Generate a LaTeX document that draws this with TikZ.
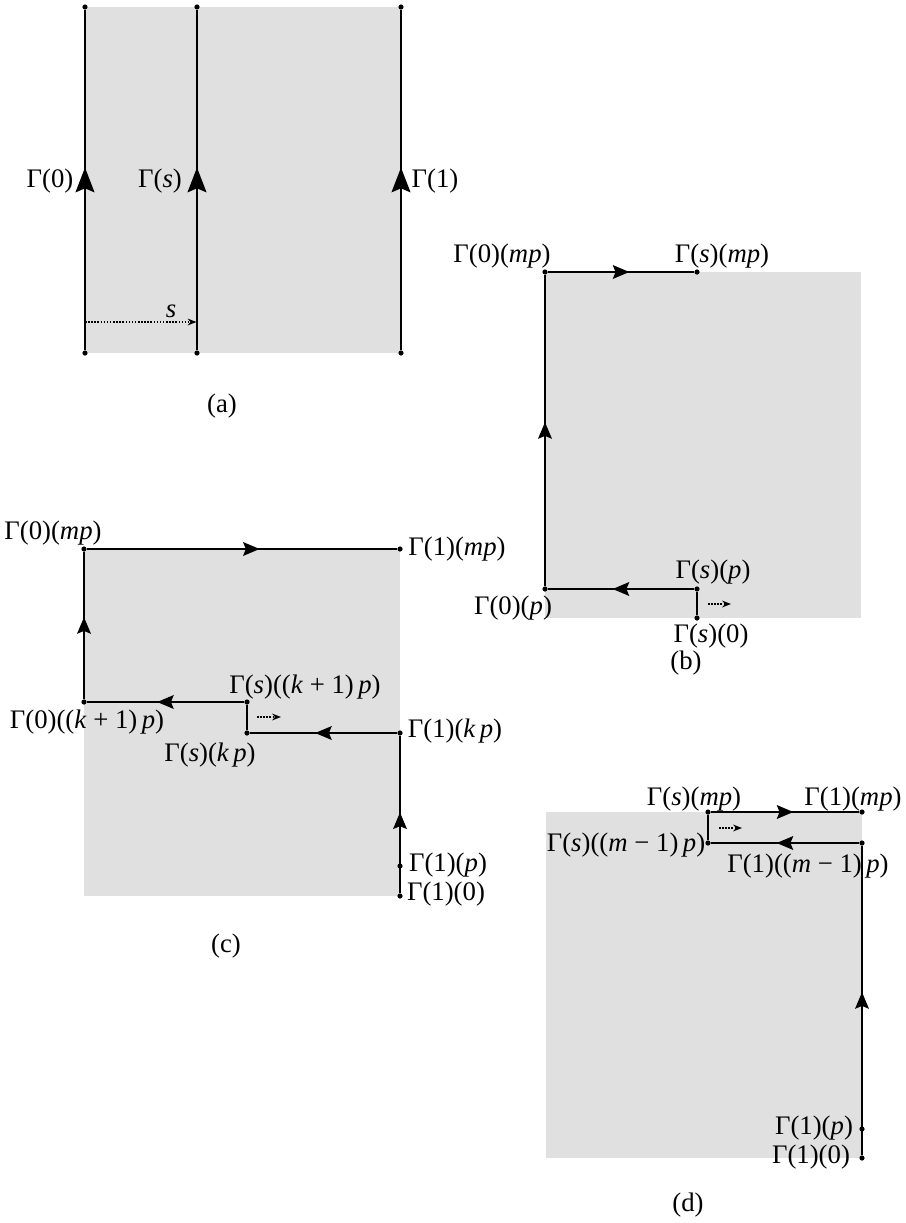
\documentclass[tikz,border=0pt]{standalone}
\usepackage{fontspec}
\setmainfont{Liberation Serif}
\usetikzlibrary{arrows.meta,decorations.markings}
\definecolor{shadegray}{HTML}{E0E0E0}
\tikzset{
  vtx/.style={circle,fill=black,inner sep=0pt,minimum size=2pt},
  lab/.style={inner sep=0pt,font=\fontsize{10.3}{12}\selectfont},
  seg/.style={line width=0.8pt},
  bigmid/.style={postaction={decorate,decoration={markings,mark=at position #1 with {\fill (4.8pt,0pt) -- (-4.8pt,3.7pt) -- (-3.2pt,0pt) -- (-4.8pt,-3.7pt) -- cycle;}}}},
  bigmid/.default=0.5,
  midarr/.style={postaction={decorate,decoration={markings,mark=at position #1 with {\fill (3.2pt,0pt) -- (-3.2pt,2.7pt) -- (-2.1pt,0pt) -- (-3.2pt,-2.7pt) -- cycle;}}}},
  midarr/.default=0.5,
  dotarr/.style={line width=0.6pt,dash pattern=on 0.6pt off 0.6pt,-{Stealth[length=3.4pt,width=2.6pt]}},
  shadebox/.style={fill=shadegray,draw=none}
}
\begin{document}
\begin{tikzpicture}[x=0.385pt,y=-0.385pt]
\useasboundingbox (0,0) rectangle (906,1223);
% ---------------- (a)
\fill[shadebox] (85,7) rectangle (401,353);
\node[vtx] (a0t) at (85,7) {};
\node[vtx] (a0b) at (85,353) {};
\node[vtx] (ast) at (197,7) {};
\node[vtx] (asb) at (197,353) {};
\node[vtx] (a1t) at (401,7) {};
\node[vtx] (a1b) at (401,353) {};
\draw[seg,bigmid] (a0b) -- (a0t);
\draw[seg,bigmid] (asb) -- (ast);
\draw[seg,bigmid] (a1b) -- (a1t);
\coordinate (ad1) at (85,322);
\coordinate (ad2) at (196.5,322);
\draw[dotarr] (ad1) -- (ad2);
\node[lab] (la0) at (50,181) {Γ(0)};
\node[lab] (las) at (160,181) {Γ(\textit{s})};
\node[lab] (la1) at (435,181) {Γ(1)};
\node[lab] (lass) at (171,311) {\textit{s}};
\node[lab] (capa) at (222,406) {(a)};
% ---------------- (b)
\fill[shadebox] (545,272) rectangle (861,618);
\node[vtx] (b0m) at (545,272) {};
\node[vtx] (bsm) at (697,272) {};
\node[vtx] (b0p) at (545,589) {};
\node[vtx] (bsp) at (697,589) {};
\node[vtx] (bs0) at (697,618) {};
\draw[seg] (bs0) -- (bsp);
\draw[seg,midarr] (bsp) -- (b0p);
\draw[seg,midarr] (b0p) -- (b0m);
\draw[seg,midarr] (b0m) -- (bsm);
\coordinate (bd1) at (708,604);
\coordinate (bd2) at (731,604);
\draw[dotarr] (bd1) -- (bd2);
\node[lab] (lb0m) at (502,256) {Γ(0)(\textit{mp})};
\node[lab] (lbsm) at (722,256) {Γ(\textit{s})(\textit{mp})};
\node[lab] (lbsp) at (713,572) {Γ(\textit{s})(\textit{p})};
\node[lab] (lb0p) at (513,608) {Γ(0)(\textit{p})};
\node[lab] (lbs0) at (711,636) {Γ(\textit{s})(0)};
\node[lab] (capb) at (686,663) {(b)};
% ---------------- (c)
\fill[shadebox] (84,549) rectangle (400,896);
\node[vtx] (c0m) at (84,549) {};
\node[vtx] (c1m) at (400,549) {};
\node[vtx] (c0k) at (84,702) {};
\node[vtx] (csk1) at (247,702) {};
\node[vtx] (csk) at (247,733) {};
\node[vtx] (c1k) at (400,733) {};
\node[vtx] (c1p) at (400,866) {};
\node[vtx] (c10) at (400,896) {};
\draw[seg,midarr=0.46] (c10) -- (c1k);
\draw[seg,midarr] (c1k) -- (csk);
\draw[seg] (csk) -- (csk1);
\draw[seg,midarr] (csk1) -- (c0k);
\draw[seg,midarr] (c0k) -- (c0m);
\draw[seg,midarr=0.53] (c0m) -- (c1m);
\coordinate (cd1) at (257,717);
\coordinate (cd2) at (281,717);
\draw[dotarr] (cd1) -- (cd2);
\node[lab] (lc0m) at (53,533) {Γ(0)(\textit{mp})};
\node[lab] (lc1m) at (457,549) {Γ(1)(\textit{mp})};
\node[lab] (lcsk1) at (305,687) {Γ(\textit{s})((\textit{k} + 1)\,\textit{p})};
\node[lab] (lc0k) at (87,722) {Γ(0)((\textit{k} + 1)\,\textit{p})};
\node[lab] (lcsk) at (210,755) {Γ(\textit{s})(\textit{k\,p})};
\node[lab] (lc1k) at (455,731) {Γ(1)(\textit{k\,p})};
\node[lab] (lc1p) at (448,865) {Γ(1)(\textit{p})};
\node[lab] (lc10) at (446,894) {Γ(1)(0)};
\node[lab] (capc) at (226,946) {(c)};
% ---------------- (d)
\fill[shadebox] (546,812) rectangle (862,1158);
\node[vtx] (dsm) at (708,812) {};
\node[vtx] (d1m) at (862,812) {};
\node[vtx] (dsm1) at (708,843) {};
\node[vtx] (d1m1) at (862,843) {};
\node[vtx] (d1p) at (862,1129) {};
\node[vtx] (d10) at (862,1158) {};
\draw[seg,midarr] (d10) -- (d1m1);
\draw[seg,midarr] (d1m1) -- (dsm1);
\draw[seg] (dsm1) -- (dsm);
\draw[seg,midarr] (dsm) -- (d1m);
\coordinate (dd1) at (719,828);
\coordinate (dd2) at (742,828);
\draw[dotarr] (dd1) -- (dd2);
\node[lab] (ldsm) at (694,799) {Γ(\textit{s})(\textit{mp})};
\node[lab] (ld1m) at (853,799) {Γ(1)(\textit{mp})};
\node[lab] (ldsm1) at (626,845) {Γ(\textit{s})((\textit{m} − 1)\,\textit{p})};
\node[lab] (ld1m1) at (808,866) {Γ(1)((\textit{m} − 1)\,\textit{p})};
\node[lab] (ld1p) at (814,1128) {Γ(1)(\textit{p})};
\node[lab] (ld10) at (811,1157) {Γ(1)(0)};
\node[lab] (capd) at (688,1205) {(d)};
\end{tikzpicture}
\end{document}
